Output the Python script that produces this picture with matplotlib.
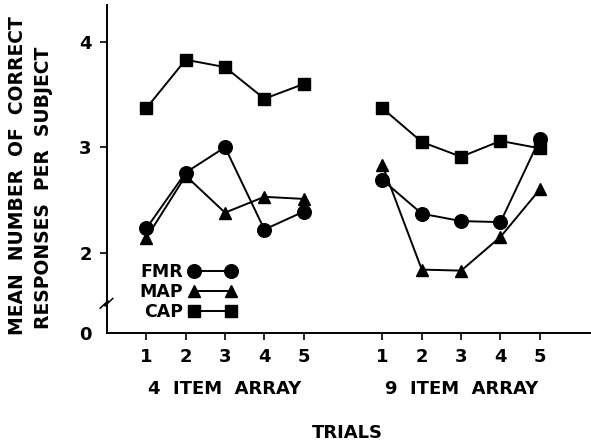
import numpy as np
import matplotlib
matplotlib.use("Agg")
import matplotlib.pyplot as plt
from matplotlib.lines import Line2D

plt.rcParams['font.family'] = ['DejaVu Sans']
plt.rcParams['font.weight'] = 'bold'

# trial numbers and the two arrays (9 item array drawn 6 slots to the right)
trials = [1, 2, 3, 4, 5]
pos_4 = [1, 2, 3, 4, 5]
pos_9 = [7, 8, 9, 10, 11]

fmr_4 = [2.23, 2.76, 3.00, 2.22, 2.39]
map_4 = [2.14, 2.73, 2.38, 2.53, 2.51]
cap_4 = [3.37, 3.83, 3.76, 3.46, 3.60]

fmr_9 = [2.69, 2.37, 2.30, 2.29, 3.08]
map_9 = [2.83, 1.84, 1.83, 2.15, 2.60]
cap_9 = [3.37, 3.05, 2.91, 3.06, 2.99]

y_ticks = [2, 3, 4]
y_zero = 1.24   # where the broken axis shows "0"

fig = plt.figure(figsize=(5.91, 4.45), dpi=100)
ax = fig.add_axes([0.181, 0.252, 0.819, 0.737])

series = [("FMR", "o", 9.8, fmr_4, fmr_9),
          ("MAP", "^", 9.2, map_4, map_9),
          ("CAP", "s", 9.0, cap_4, cap_9)]
handles = []
for name, mk, ms, v4, v9 in series:
    for xs, ys in [(pos_4, v4), (pos_9, v9)]:
        ax.plot(xs, ys, color="black", lw=1.4, marker=mk, ms=ms,
                markerfacecolor="black", markeredgecolor="black")
    handles.append(Line2D([], [], color="black", lw=1.4, marker=mk, ms=ms))

leg = ax.legend(handles, [s[0] for s in series], loc="lower left",
                bbox_to_anchor=(0.035, -0.012), frameon=False, markerfirst=False,
                numpoints=2, handlelength=2.75, handletextpad=0.3,
                labelspacing=0.13, fontsize=12.5)

ax.set_xlim(0, 12.3)
ax.set_ylim(y_zero, 4.35)
ax.set_xticks(pos_4 + pos_9)
ax.set_xticklabels([str(t) for t in trials] * 2, fontsize=13)
ax.set_yticks(y_ticks)
ax.set_yticklabels([str(v) for v in y_ticks], fontsize=13)
ax.set_yticks([y_zero], minor=True)
ax.set_yticklabels(["0"], minor=True, fontsize=13)
ax.tick_params(axis="both", which="major", direction="out", length=5,
               width=1.2, pad=6)
ax.tick_params(axis="y", which="minor", length=0, pad=11)

for side in ["top", "right"]:
    ax.spines[side].set_visible(False)
for side in ["left", "bottom"]:
    ax.spines[side].set_linewidth(1.4)

# axis break mark
zx = [-0.014, -0.002, -0.004, 0.002, 0.0, 0.012]
zy = [0.075, 0.092, 0.082, 0.098, 0.088, 0.105]
ax.plot(zx, zy, transform=ax.transAxes, color="black", lw=1.1, clip_on=False)

ax.text(3, -0.17, "4  ITEM  ARRAY", transform=ax.get_xaxis_transform(),
        ha="center", va="center", fontsize=13)
ax.text(9, -0.17, "9  ITEM  ARRAY", transform=ax.get_xaxis_transform(),
        ha="center", va="center", fontsize=13)
ax.text(6.1, -0.305, "TRIALS", transform=ax.get_xaxis_transform(),
        ha="center", va="center", fontsize=13)

fig.text(0.030, 0.606, "MEAN  NUMBER  OF  CORRECT", rotation=90,
         ha="center", va="center", fontsize=13.5)
fig.text(0.074, 0.577, "RESPONSES  PER  SUBJECT", rotation=90,
         ha="center", va="center", fontsize=13.5)

fig.savefig("out.png", dpi=100)
